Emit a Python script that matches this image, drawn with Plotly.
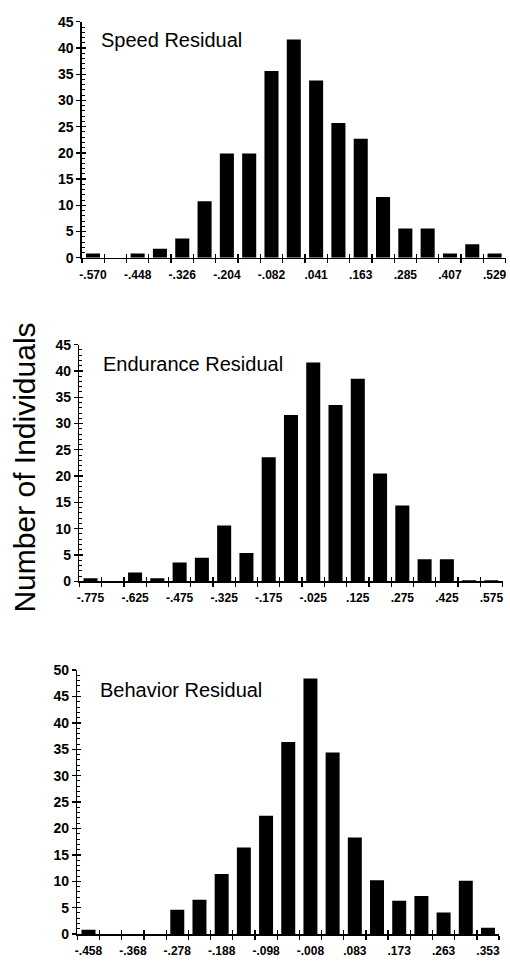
import numpy as np
import plotly.graph_objects as go

# ---------------- data ----------------
speed_labels = ["-.570", "-.448", "-.326", "-.204", "-.082", ".041", ".163", ".285", ".407", ".529"]
speed_counts = [0.8, 0, 0.8, 1.7, 3.7, 10.8, 19.9, 19.9, 35.6, 41.6, 33.8, 25.7, 22.7, 11.6, 5.6, 5.6, 0.8, 2.6, 0.8]

endurance_labels = ["-.775", "-.625", "-.475", "-.325", "-.175", "-.025", ".125", ".275", ".425", ".575"]
endurance_counts = [0.6, 0, 1.7, 0.6, 3.6, 4.5, 10.6, 5.4, 23.6, 31.6, 41.6, 33.5, 38.5, 20.5, 14.4, 4.2, 4.2, 0.2, 0.2]

behavior_labels = ["-.458", "-.368", "-.278", "-.188", "-.098", "-.008", ".083", ".173", ".263", ".353"]
behavior_counts = [0.8, 0, 0, 0, 4.6, 6.5, 11.4, 16.4, 22.4, 36.4, 48.4, 34.4, 18.3, 10.2, 6.3, 7.2, 4.1, 10.1, 1.2]

titles = ["Speed Residual", "Endurance Residual", "Behavior Residual"]
y_max = [45, 45, 50]


def to_num(s):
    return float(s.replace(".", "0.", 1))


W, H = 510, 965
# pixel boxes of each panel: (x_left, x_right, y_top, y_bottom)
boxes = [(79.5, 506.7, 14, 254), (77, 503.5, 342.3, 583), (75, 500, 673.3, 941.7)]
title_pos = [(97, 32.5), (99, 361.5), (96, 693)]

FONT = "Liberation Sans, Arial, Helvetica, sans-serif"

fig = go.Figure()
layout = dict(
    width=W, height=H, margin=dict(l=0, r=0, t=0, b=0),
    paper_bgcolor="white", plot_bgcolor="white", showlegend=False,
    bargap=0.37, font=dict(family=FONT, color="black"),
)
annotations = []

panels = [(speed_labels, speed_counts), (endurance_labels, endurance_counts), (behavior_labels, behavior_counts)]
for i, (labels, counts) in enumerate(panels):
    n = len(counts)
    centers = np.linspace(to_num(labels[0]), to_num(labels[-1]), n)
    w = centers[1] - centers[0]
    bounds = list(np.concatenate([[centers[0] - w / 2], centers + w / 2]))
    xr = [centers[0] - w / 2, centers[-1] + w / 2]

    k = i + 1
    xa = "x" if k == 1 else f"x{k}"
    ya = "y" if k == 1 else f"y{k}"
    xo = f"x{k + 3}"
    yo = f"y{k + 3}"

    fig.add_trace(go.Bar(x=centers, y=counts, xaxis=xa, yaxis=ya,
                         marker=dict(color="black", line=dict(width=0))))
    fig.add_trace(go.Scatter(x=[None], y=[None], xaxis=xo, yaxis=ya, hoverinfo="skip"))
    fig.add_trace(go.Scatter(x=[None], y=[None], xaxis=xa, yaxis=yo, hoverinfo="skip"))

    xl, xrp, yt, yb = boxes[i]
    xdom = [xl / W, xrp / W]
    ydom = [1 - yb / H, 1 - yt / H]
    ykey = "yaxis" if k == 1 else f"yaxis{k}"
    xkey = "xaxis" if k == 1 else f"xaxis{k}"

    layout[xkey] = dict(
        domain=xdom, anchor=ya, range=xr, showgrid=False, zeroline=False,
        showline=True, linecolor="black", linewidth=1.5,
        tickmode="array", tickvals=list(centers[::2]), ticktext=labels,
        ticks="outside", ticklen=5, tickcolor="rgba(0,0,0,0)",
        tickfont=dict(family=FONT, size=12, color="black", weight="bold"),
        minor=dict(tickmode="array", tickvals=bounds, ticks="outside", ticklen=4,
                   tickwidth=1.3, tickcolor="black"),
        fixedrange=True,
    )
    layout[f"xaxis{k + 3}"] = dict(
        overlaying=xa, anchor=ya, range=xr, showgrid=False, zeroline=False,
        showline=False, showticklabels=False,
        tickmode="array", tickvals=bounds, ticks="inside", ticklen=4,
        tickwidth=1.3, tickcolor="black", fixedrange=True,
    )
    layout[ykey] = dict(
        domain=ydom, anchor=xa, range=[0, y_max[i]], showgrid=False, zeroline=False,
        showline=True, linecolor="black", linewidth=1.5,
        tickmode="linear", tick0=0, dtick=5,
        ticks="outside", ticklen=4, tickwidth=1.3, tickcolor="black",
        tickfont=dict(family=FONT, size=14, color="black", weight="bold"),
        fixedrange=True,
    )
    layout[f"yaxis{k + 3}"] = dict(
        overlaying=ya, anchor=xa, range=[0, y_max[i]], showgrid=False, zeroline=False,
        showline=False, showticklabels=False,
        tickmode="linear", tick0=0, dtick=5,
        ticks="inside", ticklen=4, tickwidth=1.3, tickcolor="black",
        minor=dict(tickmode="linear", tick0=0, dtick=1, ticks="inside", ticklen=3,
                   tickwidth=1, tickcolor="black"),
        fixedrange=True,
    )

    tx, ty = title_pos[i]
    annotations.append(dict(
        text=titles[i], xref="paper", yref="paper", x=tx / W, y=1 - ty / H,
        xanchor="left", yanchor="middle", showarrow=False,
        font=dict(family=FONT, size=20, color="black"),
    ))

annotations.append(dict(
    text="Number of Individuals", xref="paper", yref="paper",
    x=22 / W, y=1 - 467.5 / H, xanchor="center", yanchor="middle",
    textangle=-90, showarrow=False,
    font=dict(family=FONT, size=30, color="black"),
))
layout["annotations"] = annotations

fig.update_layout(**layout)
fig.write_html(
    "out.html",
    config={"displayModeBar": False, "staticPlot": True},
    post_script="document.body.style.margin='0';document.body.style.overflow='hidden';",
)
